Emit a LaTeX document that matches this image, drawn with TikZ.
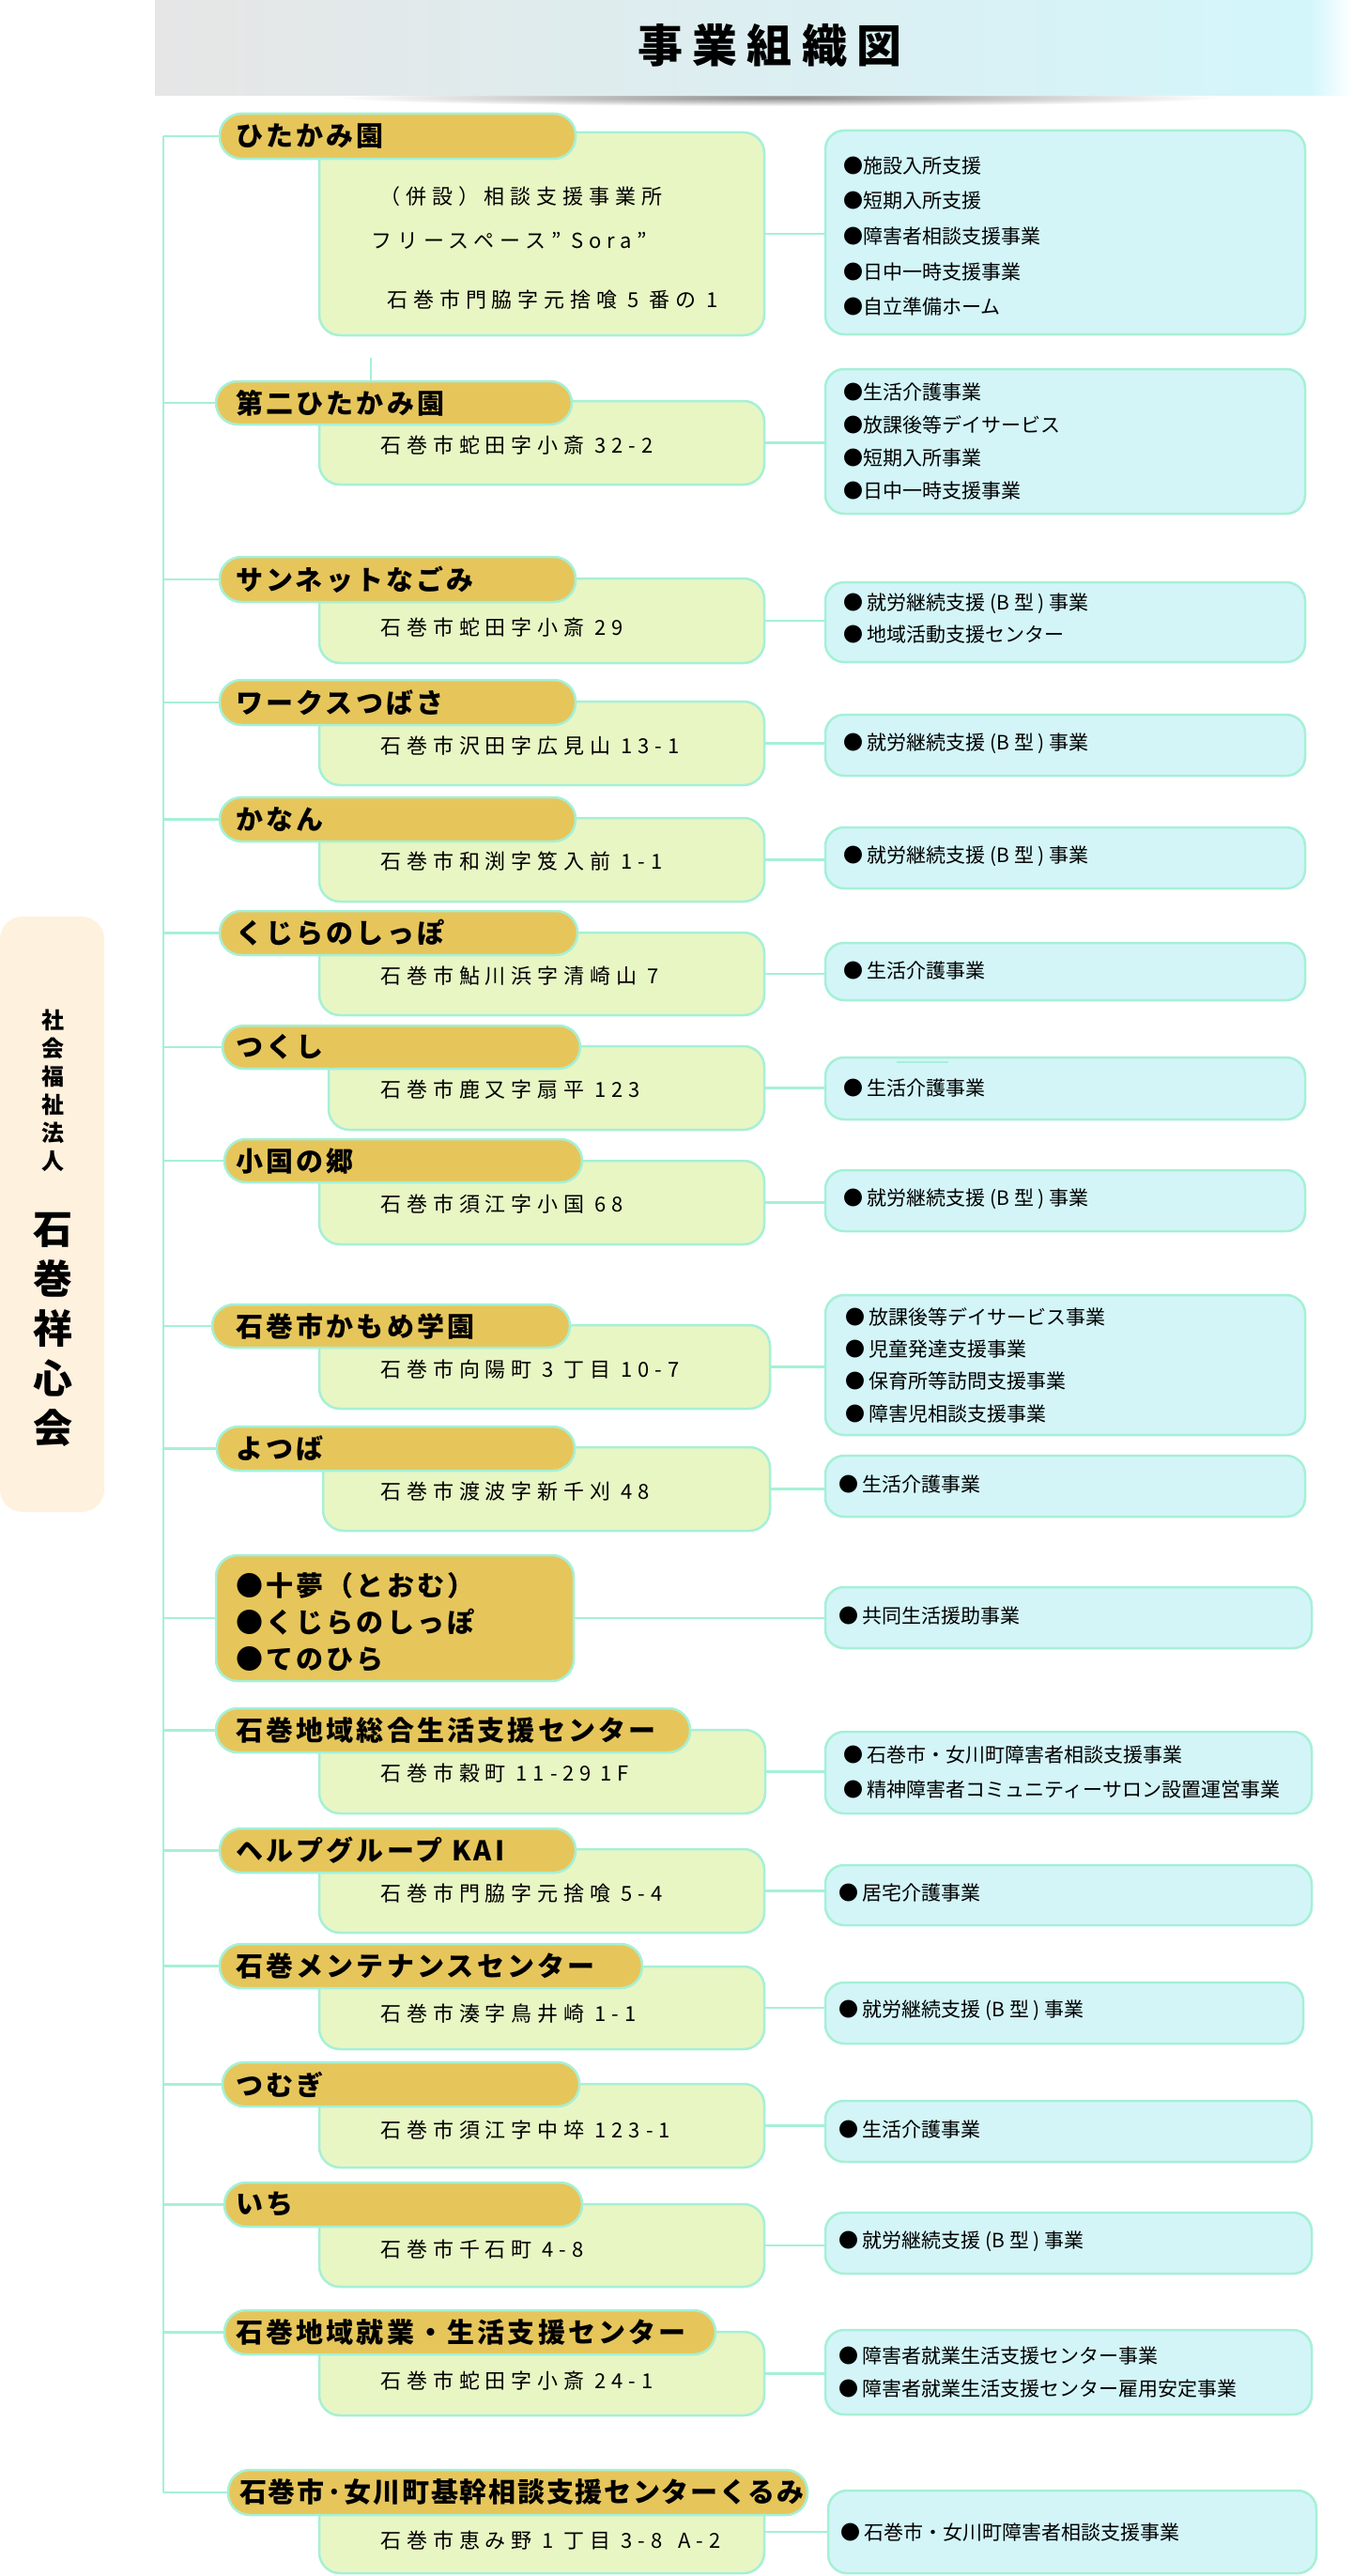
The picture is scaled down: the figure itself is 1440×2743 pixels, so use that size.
\documentclass[tikz,border=0pt]{standalone}
\usepackage{fontspec}
\setmainfont{Noto Sans CJK JP}
\newfontfamily\goldfont[LetterSpace=11]{Noto Sans CJK JP}
\newfontfamily\kurumifont[LetterSpace=6]{Noto Sans CJK JP}
\newfontfamily\addrfont[LetterSpace=27]{Noto Sans CJK JP}
\newfontfamily\titlefont[LetterSpace=21]{Noto Sans CJK JP}
\definecolor{mint}{HTML}{A6F0D6}
\definecolor{goldc}{HTML}{E6C65B}
\definecolor{greenc}{HTML}{E8F6C4}
\definecolor{bluec}{HTML}{D3F5F8}
\definecolor{creamc}{HTML}{FEF1DD}
\definecolor{titleL}{HTML}{E6E6E6}
\definecolor{titleR}{HTML}{D3F6FB}
\tikzset{
  conn/.style={draw=mint, line width=2.5pt},
  goldbox/.style={rectangle, rounded corners=23pt, fill=goldc, draw=mint, line width=2.5pt, inner sep=0pt},
  greenbox/.style={rectangle, rounded corners=22pt, fill=greenc, draw=mint, line width=2.5pt, inner sep=0pt},
  bluebox/.style={rectangle, rounded corners=20pt, fill=bluec, draw=mint, line width=2.5pt, inner sep=0pt},
  leftbox/.style={rectangle, rounded corners=24pt, fill=creamc, inner sep=0pt},
  glabel/.style={anchor=west, inner sep=0pt, align=left, font=\goldfont\bfseries\fontsize{29}{39}\selectfont},
  addr/.style={anchor=west, inner sep=0pt, font=\addrfont\fontsize{22}{22}\selectfont},
  btext/.style={anchor=west, inner sep=0pt, align=left, font=\fontsize{21}{34.5}\selectfont},
}
\newcommand\placebox[6]{%
  \pgfmathsetmacro\bxcx{(#3+#5)/2}%
  \pgfmathsetmacro\bxcy{(#4+#6)/2}%
  \pgfmathsetmacro\bxw{#5-#3}%
  \pgfmathsetmacro\bxh{#6-#4}%
  \node[#1, minimum width=\bxw pt, minimum height=\bxh pt] (#2) at (\bxcx,\bxcy) {};}
\begin{document}
\begin{tikzpicture}[x=1pt,y=-1pt]
\useasboundingbox (0,0) rectangle (1440,2743);
% title
\shade[inner color=black!45, outer color=white] (830,104) ellipse [x radius=470pt, y radius=9pt];
\shade[left color=titleL, right color=titleR] (165,0) rectangle (1395,102);
\shade[left color=titleR, right color=white] (1395,0) rectangle (1440,102);
\node[font=\titlefont\bfseries\fontsize{48}{48}\selectfont, inner sep=0pt] (title) at (820,48) {事業組織図};
% left organisation box
\placebox{leftbox}{org}{0}{976}{111}{1610}
\node[font=\bfseries\fontsize{24}{30}\selectfont, align=center, inner sep=0pt] (org1) at (56,1161) {社\\会\\福\\祉\\法\\人};
\node[font=\bfseries\fontsize{42}{53}\selectfont, align=center, inner sep=0pt] (org2) at (56,1416) {石\\巻\\祥\\心\\会};

% 1
\placebox{greenbox}{g1}{340}{141}{814}{357}
\placebox{goldbox}{k1}{234}{121}{613}{169}
\placebox{bluebox}{b1}{879}{139}{1390}{356}
\node[glabel] (l1) at (251,145) {ひたかみ園};
\node[addr] (a1a) at (404,209) {（併設）相談支援事業所};
\node[addr] (a1b) at (395,256) {フリースペース” Sora”};
\node[addr] (a1c) at (412,319) {石巻市門脇字元捨喰 5 番の 1};
\node[btext, font=\fontsize{21}{37.7}\selectfont] (s1) at (898,251.5) {●施設入所支援\\●短期入所支援\\●障害者相談支援事業\\●日中一時支援事業\\●自立準備ホーム};
% 2
\placebox{greenbox}{g2}{340}{427}{814}{516}
\placebox{goldbox}{k2}{230}{406}{609}{452}
\placebox{bluebox}{b2}{879}{393}{1390}{547}
\node[glabel] (l2) at (251,429) {第二ひたかみ園};
\node[addr] (a2) at (405,474) {石巻市蛇田字小斎 32-2};
\node[btext, font=\fontsize{21}{34.7}\selectfont] (s2) at (898,470) {●生活介護事業\\●放課後等デイサービス\\●短期入所事業\\●日中一時支援事業};
% 3
\placebox{greenbox}{g3}{340}{616}{814}{706}
\placebox{goldbox}{k3}{234}{593}{613}{641}
\placebox{bluebox}{b3}{879}{620}{1390}{705}
\node[glabel] (l3) at (251,617) {サンネットなごみ};
\node[addr] (a3) at (405,668) {石巻市蛇田字小斎 29};
\node[btext, font=\fontsize{21}{34}\selectfont] (s3) at (898,659) {● 就労継続支援 (B 型 ) 事業\\● 地域活動支援センター};
% 4
\placebox{greenbox}{g4}{340}{747}{814}{836}
\placebox{goldbox}{k4}{234}{724}{613}{772}
\placebox{bluebox}{b4}{879}{761}{1390}{826}
\node[glabel] (l4) at (251,748) {ワークスつばさ};
\node[addr] (a4) at (405,794) {石巻市沢田字広見山 13-1};
\node[btext] (s4) at (898,792) {● 就労継続支援 (B 型 ) 事業};
% 5
\placebox{greenbox}{g5}{340}{871}{814}{960}
\placebox{goldbox}{k5}{234}{849}{613}{896}
\placebox{bluebox}{b5}{879}{881}{1390}{946}
\node[glabel] (l5) at (251,872.5) {かなん};
\node[addr] (a5) at (405,917) {石巻市和渕字笈入前 1-1};
\node[btext] (s5) at (898,912) {● 就労継続支援 (B 型 ) 事業};
% 6
\placebox{greenbox}{g6}{340}{993}{814}{1081}
\placebox{goldbox}{k6}{234}{970}{615}{1017}
\placebox{bluebox}{b6}{879}{1004}{1390}{1065}
\node[glabel] (l6) at (251,993.5) {くじらのしっぽ};
\node[addr] (a6) at (405,1039) {石巻市鮎川浜字清崎山 7};
\node[btext] (s6) at (898,1034) {● 生活介護事業};
% 7
\placebox{greenbox}{g7}{350}{1114}{814}{1203}
\placebox{goldbox}{k7}{237}{1092}{618}{1138}
\placebox{bluebox}{b7}{879}{1126}{1390}{1192}
\node[glabel] (l7) at (251,1115) {つくし};
\node[addr] (a7) at (405,1160) {石巻市鹿又字扇平 123};
\node[btext] (s7) at (898,1159) {● 生活介護事業};
\coordinate (mk7) at (955,1131);
\draw[conn] (mk7) -- ++(55,0);
% 8
\placebox{greenbox}{g8}{340}{1236}{814}{1325}
\placebox{goldbox}{k8}{239}{1213}{620}{1259}
\placebox{bluebox}{b8}{879}{1246}{1390}{1311}
\node[glabel] (l8) at (251,1236) {小国の郷};
\node[addr] (a8) at (405,1282) {石巻市須江字小国 68};
\node[btext] (s8) at (898,1277) {● 就労継続支援 (B 型 ) 事業};
% 9
\placebox{greenbox}{g9}{340}{1411}{820}{1500}
\placebox{goldbox}{k9}{226}{1389}{607}{1435}
\placebox{bluebox}{b9}{879}{1379}{1390}{1528}
\node[glabel] (l9) at (251,1412) {石巻市かもめ学園};
\node[addr] (a9) at (405,1458) {石巻市向陽町 3 丁目 10-7};
\node[btext, font=\fontsize{21}{34.3}\selectfont] (s9) at (900,1453.5) {● 放課後等デイサービス事業\\● 児童発達支援事業\\● 保育所等訪問支援事業\\● 障害児相談支援事業};
% 10
\placebox{greenbox}{g10}{344}{1541}{820}{1630}
\placebox{goldbox}{k10}{231}{1519}{612}{1566}
\placebox{bluebox}{b10}{879}{1550}{1390}{1615}
\node[glabel] (l10) at (251,1542.5) {よつば};
\node[addr] (a10) at (405,1588) {石巻市渡波字新千刈 48};
\node[btext] (s10) at (893,1581) {● 生活介護事業};
% 11
\placebox{goldbox}{k11}{230}{1656}{611}{1790}
\placebox{bluebox}{b11}{879}{1690}{1397}{1755}
\node[glabel] (l11) at (251,1727) {●十夢（とおむ）\\●くじらのしっぽ\\●てのひら};
\node[btext] (s11) at (893,1721) {● 共同生活援助事業};
% 12
\placebox{greenbox}{g12}{340}{1842}{815}{1931}
\placebox{goldbox}{k12}{230}{1819}{735}{1866}
\placebox{bluebox}{b12}{879}{1844}{1397}{1931}
\node[glabel] (l12) at (251,1842.5) {石巻地域総合生活支援センター};
\node[addr] (a12) at (405,1888) {石巻市穀町 11-29\hspace{9pt}1F};
\node[btext, font=\fontsize{21}{37}\selectfont] (s12) at (898,1886.5) {● 石巻市・女川町障害者相談支援事業\\● 精神障害者コミュニティーサロン設置運営事業};
% 13
\placebox{greenbox}{g13}{340}{1969}{814}{2058}
\placebox{goldbox}{k13}{234}{1947}{613}{1994}
\placebox{bluebox}{b13}{879}{1986}{1397}{2050}
\node[glabel] (l13) at (251,1970.5) {ヘルプグループ KAI};
\node[addr] (a13) at (405,2016) {石巻市門脇字元捨喰 5-4};
\node[btext] (s13) at (893,2016) {● 居宅介護事業};
% 14
\placebox{greenbox}{g14}{340}{2094}{814}{2182}
\placebox{goldbox}{k14}{234}{2070}{684}{2117}
\placebox{bluebox}{b14}{879}{2111}{1388}{2176}
\node[glabel] (l14) at (251,2093.5) {石巻メンテナンスセンター};
\node[addr] (a14) at (405,2144) {石巻市湊字鳥井崎 1-1};
\node[btext] (s14) at (893,2141) {● 就労継続支援 (B 型 ) 事業};
% 15
\placebox{greenbox}{g15}{340}{2219}{814}{2308}
\placebox{goldbox}{k15}{237}{2196}{617}{2243}
\placebox{bluebox}{b15}{879}{2237}{1397}{2302}
\node[glabel] (l15) at (251,2219.5) {つむぎ};
\node[addr] (a15) at (405,2268) {石巻市須江字中埣 123-1};
\node[btext] (s15) at (893,2268) {● 生活介護事業};
% 16
\placebox{greenbox}{g16}{340}{2347}{814}{2435}
\placebox{goldbox}{k16}{239}{2324}{620}{2371}
\placebox{bluebox}{b16}{879}{2356}{1397}{2421}
\node[glabel] (l16) at (251,2347.5) {いち};
\node[addr] (a16) at (405,2395) {石巻市千石町 4-8};
\node[btext] (s16) at (893,2387) {● 就労継続支援 (B 型 ) 事業};
% 17
\placebox{greenbox}{g17}{340}{2483}{814}{2572}
\placebox{goldbox}{k17}{239}{2460}{762}{2507}
\placebox{bluebox}{b17}{879}{2481}{1397}{2571}
\node[glabel] (l17) at (251,2483.5) {石巻地域就業・生活支援センター};
\node[addr] (a17) at (405,2535) {石巻市蛇田字小斎 24-1};
\node[btext, font=\fontsize{21}{35}\selectfont] (s17) at (893,2526.5) {● 障害者就業生活支援センター事業\\● 障害者就業生活支援センター雇用安定事業};
% 18
\placebox{greenbox}{g18}{340}{2652}{814}{2740}
\placebox{goldbox}{k18}{243}{2630}{860}{2678}
\placebox{bluebox}{b18}{882}{2652}{1402}{2740}
\node[glabel, font=\kurumifont\bfseries\fontsize{29}{39}\selectfont] (l18) at (255,2654) {石巻市·女川町基幹相談支援センターくるみ};
\node[addr] (a18) at (405,2705) {石巻市恵み野 1 丁目 3-8\hspace{6pt} A-2};
\node[btext] (s18) at (895,2697) {● 石巻市・女川町障害者相談支援事業};

% trunk and branches
\coordinate (trunk) at (174,0);
\draw[conn] (k1.west -| trunk) -- (k18.west -| trunk);
\foreach \i in {1,...,18} {
  \draw[conn] (k\i.west -| trunk) -- (k\i.west);
}
% connectors to service boxes
\foreach \i in {1,2,3,4,5,6,7,8,9,10,12,13,14,15,16,17,18} {
  \draw[conn] (g\i.east) -- (g\i.east -| b\i.west);
}
\draw[conn] (k11.east) -- (k11.east -| b11.west);
% short stray line above the second label
\coordinate (stray) at (395,381);
\draw[conn] (stray) -- (stray |- k2.north);
\end{tikzpicture}
\end{document}
